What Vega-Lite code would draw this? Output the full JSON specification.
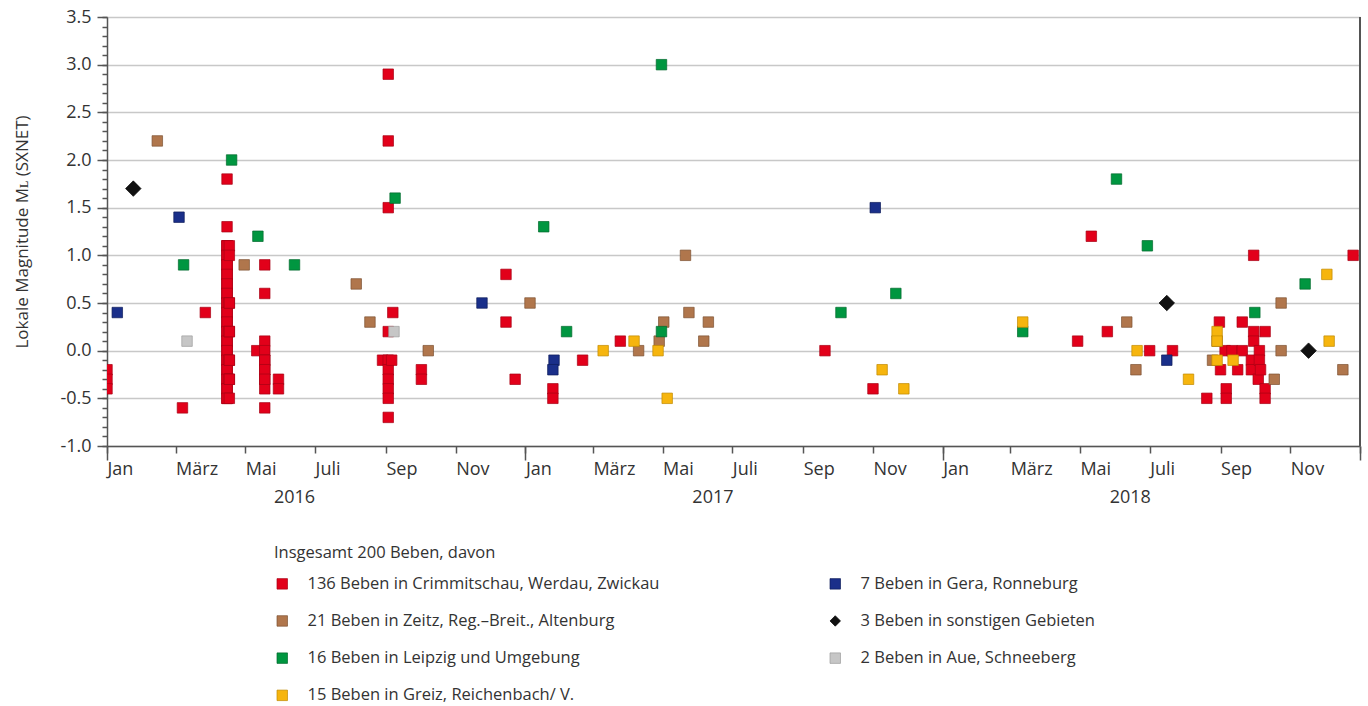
{
"$schema": "https://vega.github.io/schema/vega-lite/v6.json",
"autosize": {"type": "none"},
"width": 1253,
"height": 429,
"padding": {"left": 107, "top": 17, "right": 8, "bottom": 260},
"background": "white",
"config": {
  "font": "Open Sans",
  "view": {"stroke": null},
  "axis": {"labelFont": "Open Sans", "titleFont": "Open Sans", "labelColor": "#333333", "titleColor": "#333333", "domainColor": "#555555", "tickColor": "#555555", "domainWidth": 1.5, "tickWidth": 1.5, "labelFontSize": 18, "titleFontSize": 17, "titleFontWeight": "normal"},
  "legend": {"labelFont": "Open Sans", "titleFont": "Open Sans"}
},
"data": {"values": [
{"date":"2016-01-01","mag":-0.2,"grp":"a"},{"date":"2016-01-01","mag":-0.3,"grp":"a"},{"date":"2016-01-01","mag":-0.4,"grp":"a"},
{"date":"2016-03-07","mag":-0.6,"grp":"a"},{"date":"2016-03-27","mag":0.4,"grp":"a"},
{"date":"2016-04-15","mag":1.8,"grp":"a"},{"date":"2016-04-15","mag":1.3,"grp":"a"},{"date":"2016-04-15","mag":1.1,"grp":"a"},{"date":"2016-04-15","mag":1.0,"grp":"a"},{"date":"2016-04-15","mag":0.9,"grp":"a"},{"date":"2016-04-15","mag":0.8,"grp":"a"},{"date":"2016-04-15","mag":0.7,"grp":"a"},{"date":"2016-04-15","mag":0.6,"grp":"a"},{"date":"2016-04-15","mag":0.5,"grp":"a"},{"date":"2016-04-15","mag":0.4,"grp":"a"},{"date":"2016-04-15","mag":0.3,"grp":"a"},{"date":"2016-04-15","mag":0.2,"grp":"a"},{"date":"2016-04-15","mag":0.1,"grp":"a"},{"date":"2016-04-15","mag":0.0,"grp":"a"},{"date":"2016-04-15","mag":-0.1,"grp":"a"},{"date":"2016-04-15","mag":-0.2,"grp":"a"},{"date":"2016-04-15","mag":-0.3,"grp":"a"},{"date":"2016-04-15","mag":-0.4,"grp":"a"},{"date":"2016-04-15","mag":-0.5,"grp":"a"},
{"date":"2016-04-15","mag":1.1,"grp":"a"},{"date":"2016-04-15","mag":1.0,"grp":"a"},{"date":"2016-04-15","mag":0.9,"grp":"a"},{"date":"2016-04-15","mag":0.8,"grp":"a"},{"date":"2016-04-15","mag":0.7,"grp":"a"},{"date":"2016-04-15","mag":0.6,"grp":"a"},{"date":"2016-04-15","mag":0.5,"grp":"a"},{"date":"2016-04-15","mag":0.4,"grp":"a"},{"date":"2016-04-15","mag":0.3,"grp":"a"},{"date":"2016-04-15","mag":0.2,"grp":"a"},{"date":"2016-04-15","mag":0.1,"grp":"a"},{"date":"2016-04-15","mag":0.0,"grp":"a"},{"date":"2016-04-15","mag":-0.1,"grp":"a"},{"date":"2016-04-15","mag":-0.2,"grp":"a"},{"date":"2016-04-15","mag":-0.3,"grp":"a"},{"date":"2016-04-15","mag":-0.4,"grp":"a"},{"date":"2016-04-15","mag":-0.5,"grp":"a"},
{"date":"2016-04-15","mag":1.1,"grp":"a"},{"date":"2016-04-15","mag":1.0,"grp":"a"},{"date":"2016-04-15","mag":0.9,"grp":"a"},{"date":"2016-04-15","mag":0.8,"grp":"a"},{"date":"2016-04-15","mag":0.7,"grp":"a"},{"date":"2016-04-15","mag":0.6,"grp":"a"},{"date":"2016-04-15","mag":0.5,"grp":"a"},{"date":"2016-04-15","mag":0.4,"grp":"a"},{"date":"2016-04-15","mag":0.3,"grp":"a"},{"date":"2016-04-15","mag":0.2,"grp":"a"},{"date":"2016-04-15","mag":0.1,"grp":"a"},{"date":"2016-04-15","mag":0.0,"grp":"a"},{"date":"2016-04-15","mag":-0.1,"grp":"a"},{"date":"2016-04-15","mag":-0.2,"grp":"a"},{"date":"2016-04-15","mag":-0.3,"grp":"a"},{"date":"2016-04-15","mag":-0.4,"grp":"a"},{"date":"2016-04-15","mag":-0.5,"grp":"a"},
{"date":"2016-04-17","mag":1.1,"grp":"a"},{"date":"2016-04-17","mag":1.0,"grp":"a"},{"date":"2016-04-17","mag":0.5,"grp":"a"},{"date":"2016-04-17","mag":0.2,"grp":"a"},{"date":"2016-04-17","mag":-0.1,"grp":"a"},{"date":"2016-04-17","mag":-0.3,"grp":"a"},{"date":"2016-04-17","mag":-0.5,"grp":"a"},
{"date":"2016-04-17","mag":0.5,"grp":"a"},{"date":"2016-04-17","mag":0.2,"grp":"a"},{"date":"2016-04-17","mag":-0.1,"grp":"a"},{"date":"2016-04-17","mag":-0.3,"grp":"a"},
{"date":"2016-05-11","mag":0.0,"grp":"a"},
{"date":"2016-05-18","mag":0.9,"grp":"a"},{"date":"2016-05-18","mag":0.6,"grp":"a"},{"date":"2016-05-18","mag":0.1,"grp":"a"},{"date":"2016-05-18","mag":0.0,"grp":"a"},{"date":"2016-05-18","mag":-0.1,"grp":"a"},{"date":"2016-05-18","mag":-0.2,"grp":"a"},{"date":"2016-05-18","mag":-0.3,"grp":"a"},{"date":"2016-05-18","mag":-0.4,"grp":"a"},{"date":"2016-05-18","mag":-0.6,"grp":"a"},
{"date":"2016-05-18","mag":-0.1,"grp":"a"},{"date":"2016-05-18","mag":-0.2,"grp":"a"},{"date":"2016-05-18","mag":-0.3,"grp":"a"},
{"date":"2016-05-30","mag":-0.3,"grp":"a"},{"date":"2016-05-30","mag":-0.4,"grp":"a"},
{"date":"2016-08-29","mag":-0.1,"grp":"a"},
{"date":"2016-09-03","mag":2.9,"grp":"a"},{"date":"2016-09-03","mag":2.2,"grp":"a"},{"date":"2016-09-03","mag":1.5,"grp":"a"},{"date":"2016-09-03","mag":0.2,"grp":"a"},{"date":"2016-09-03","mag":-0.1,"grp":"a"},{"date":"2016-09-03","mag":-0.2,"grp":"a"},{"date":"2016-09-03","mag":-0.3,"grp":"a"},{"date":"2016-09-03","mag":-0.4,"grp":"a"},{"date":"2016-09-03","mag":-0.5,"grp":"a"},{"date":"2016-09-03","mag":-0.7,"grp":"a"},
{"date":"2016-09-06","mag":-0.1,"grp":"a"},{"date":"2016-09-07","mag":0.4,"grp":"a"},
{"date":"2016-10-02","mag":-0.2,"grp":"a"},{"date":"2016-10-02","mag":-0.3,"grp":"a"},
{"date":"2016-12-15","mag":0.8,"grp":"a"},{"date":"2016-12-15","mag":0.3,"grp":"a"},{"date":"2016-12-23","mag":-0.3,"grp":"a"},
{"date":"2017-01-25","mag":-0.4,"grp":"a"},{"date":"2017-01-25","mag":-0.5,"grp":"a"},{"date":"2017-02-20","mag":-0.1,"grp":"a"},{"date":"2017-03-25","mag":0.1,"grp":"a"},{"date":"2017-09-20","mag":0.0,"grp":"a"},{"date":"2017-11-01","mag":-0.4,"grp":"a"},
{"date":"2018-04-29","mag":0.1,"grp":"a"},{"date":"2018-05-11","mag":1.2,"grp":"a"},{"date":"2018-05-25","mag":0.2,"grp":"a"},{"date":"2018-07-01","mag":0.0,"grp":"a"},{"date":"2018-07-21","mag":0.0,"grp":"a"},{"date":"2018-08-20","mag":-0.5,"grp":"a"},{"date":"2018-08-31","mag":0.3,"grp":"a"},{"date":"2018-09-01","mag":-0.2,"grp":"a"},{"date":"2018-09-05","mag":0.0,"grp":"a"},{"date":"2018-09-06","mag":-0.4,"grp":"a"},{"date":"2018-09-06","mag":-0.5,"grp":"a"},{"date":"2018-09-11","mag":0.0,"grp":"a"},{"date":"2018-09-16","mag":-0.2,"grp":"a"},{"date":"2018-09-20","mag":0.3,"grp":"a"},{"date":"2018-09-20","mag":0.0,"grp":"a"},{"date":"2018-09-28","mag":-0.1,"grp":"a"},{"date":"2018-09-28","mag":-0.2,"grp":"a"},{"date":"2018-09-30","mag":1.0,"grp":"a"},{"date":"2018-09-30","mag":0.2,"grp":"a"},{"date":"2018-09-30","mag":0.1,"grp":"a"},{"date":"2018-10-04","mag":-0.3,"grp":"a"},{"date":"2018-10-05","mag":0.0,"grp":"a"},{"date":"2018-10-05","mag":-0.1,"grp":"a"},{"date":"2018-10-06","mag":-0.2,"grp":"a"},{"date":"2018-10-10","mag":0.2,"grp":"a"},{"date":"2018-10-10","mag":-0.4,"grp":"a"},{"date":"2018-10-10","mag":-0.5,"grp":"a"},{"date":"2018-12-26","mag":1.0,"grp":"a"},
{"date":"2016-02-14","mag":2.2,"grp":"c"},{"date":"2016-04-30","mag":0.9,"grp":"c"},{"date":"2016-08-06","mag":0.7,"grp":"c"},{"date":"2016-08-18","mag":0.3,"grp":"c"},{"date":"2016-10-08","mag":0.0,"grp":"c"},{"date":"2017-01-05","mag":0.5,"grp":"c"},{"date":"2017-04-10","mag":0.0,"grp":"c"},{"date":"2017-04-28","mag":0.1,"grp":"c"},{"date":"2017-05-02","mag":0.3,"grp":"c"},{"date":"2017-05-21","mag":1.0,"grp":"c"},{"date":"2017-05-24","mag":0.4,"grp":"c"},{"date":"2017-06-06","mag":0.1,"grp":"c"},{"date":"2017-06-10","mag":0.3,"grp":"c"},{"date":"2018-06-11","mag":0.3,"grp":"c"},{"date":"2018-06-19","mag":-0.2,"grp":"c"},{"date":"2018-08-25","mag":-0.1,"grp":"c"},{"date":"2018-08-29","mag":0.1,"grp":"c"},{"date":"2018-10-18","mag":-0.3,"grp":"c"},{"date":"2018-10-24","mag":0.5,"grp":"c"},{"date":"2018-10-24","mag":0.0,"grp":"c"},{"date":"2018-12-17","mag":-0.2,"grp":"c"},
{"date":"2016-03-08","mag":0.9,"grp":"e"},{"date":"2016-04-19","mag":2.0,"grp":"e"},{"date":"2016-05-12","mag":1.2,"grp":"e"},{"date":"2016-06-13","mag":0.9,"grp":"e"},{"date":"2016-09-09","mag":1.6,"grp":"e"},{"date":"2017-01-17","mag":1.3,"grp":"e"},{"date":"2017-02-06","mag":0.2,"grp":"e"},{"date":"2017-04-30","mag":0.2,"grp":"e"},{"date":"2017-04-30","mag":3.0,"grp":"e"},{"date":"2017-10-04","mag":0.4,"grp":"e"},{"date":"2017-11-21","mag":0.6,"grp":"e"},{"date":"2018-03-12","mag":0.2,"grp":"e"},{"date":"2018-06-02","mag":1.8,"grp":"e"},{"date":"2018-06-29","mag":1.1,"grp":"e"},{"date":"2018-10-01","mag":0.4,"grp":"e"},{"date":"2018-11-14","mag":0.7,"grp":"e"},
{"date":"2016-01-10","mag":0.4,"grp":"b"},{"date":"2016-03-04","mag":1.4,"grp":"b"},{"date":"2016-11-24","mag":0.5,"grp":"b"},{"date":"2017-01-26","mag":-0.1,"grp":"b"},{"date":"2017-01-25","mag":-0.2,"grp":"b"},{"date":"2017-11-03","mag":1.5,"grp":"b"},{"date":"2018-07-16","mag":-0.1,"grp":"b"},
{"date":"2017-03-10","mag":0.0,"grp":"g"},{"date":"2017-04-06","mag":0.1,"grp":"g"},{"date":"2017-04-27","mag":0.0,"grp":"g"},{"date":"2017-05-05","mag":-0.5,"grp":"g"},{"date":"2017-11-09","mag":-0.2,"grp":"g"},{"date":"2017-11-28","mag":-0.4,"grp":"g"},{"date":"2018-03-12","mag":0.3,"grp":"g"},{"date":"2018-06-20","mag":0.0,"grp":"g"},{"date":"2018-08-04","mag":-0.3,"grp":"g"},{"date":"2018-08-29","mag":0.2,"grp":"g"},{"date":"2018-08-29","mag":0.1,"grp":"g"},{"date":"2018-08-29","mag":-0.1,"grp":"g"},{"date":"2018-09-12","mag":-0.1,"grp":"g"},{"date":"2018-12-03","mag":0.8,"grp":"g"},{"date":"2018-12-05","mag":0.1,"grp":"g"},
{"date":"2016-01-24","mag":1.7,"grp":"d"},{"date":"2018-07-16","mag":0.5,"grp":"d"},{"date":"2018-11-17","mag":0.0,"grp":"d"},
{"date":"2016-03-11","mag":0.1,"grp":"f"},{"date":"2016-09-08","mag":0.2,"grp":"f"}
]},
"layer": [
  {
    "mark": {"type": "point", "filled": true, "strokeWidth": 0.7, "opacity": 1, "clip": true},
    "encoding": {
      "x": {"field": "date", "type": "temporal",
        "scale": {"type": "utc", "domain": [{"year": 2016, "month": 1, "date": 1, "utc": true}, {"year": 2019, "month": 1, "date": 1, "utc": true}]},
        "axis": {"orient": "bottom", "tickCount": {"interval": "month", "step": 2}, "labelExpr": "utcyear(datum.value) > 2018 ? '' : ['Jan','Feb','März','Apr','Mai','Juni','Juli','Aug','Sep','Okt','Nov','Dez'][utcmonth(datum.value)]", "labelAlign": "left", "labelBaseline": "top", "labelOffset": 0, "labelPadding": 7, "tickSize": 7, "grid": false, "title": null, "labelFlush": false, "labelOverlap": false}},
      "y": {"field": "mag", "type": "quantitative",
        "scale": {"domain": [-1, 3.5], "nice": false, "zero": false},
        "axis": {"orient": "left", "values": [-1, -0.5, 0, 0.5, 1, 1.5, 2, 2.5, 3, 3.5], "labelExpr": "replace(format(datum.value, '.1f'), '−', '-')", "tickSize": 10, "labelPadding": 6, "grid": true, "gridColor": "#c8c8c8", "gridWidth": 1.5, "title": "Lokale Magnitude Mʟ (SXNET)", "titlePadding": 28}},
      "color": {"field": "grp", "type": "nominal",
        "scale": {"domain": ["a", "c", "e", "g", "b", "d", "f"], "range": ["#e2001a", "#b0764c", "#009640", "#f6b50e", "#1a2f8a", "#111111", "#c6c6c6"]},
        "legend": {"orient": "none", "legendX": 167, "legendY": 528, "direction": "vertical", "columns": 2, "title": "Insgesamt 200 Beben, davon", "titleFontSize": 16.5, "titleFontWeight": "normal", "titleColor": "#333333", "titlePadding": 14, "titleLimit": 800, "labelFontSize": 16.5, "labelColor": "#333333", "labelOffset": 17, "symbolSize": 110, "rowPadding": 20.2, "columnPadding": 167, "symbolStrokeWidth": 0.7, "padding": 0, "labelLimit": 600,
          "labelExpr": "datum.label == 'a' ? '136 Beben in Crimmitschau, Werdau, Zwickau' : datum.label == 'b' ? '7 Beben in Gera, Ronneburg' : datum.label == 'c' ? ' 21 Beben in Zeitz, Reg.–Breit., Altenburg' : datum.label == 'd' ? '3 Beben in sonstigen Gebieten' : datum.label == 'e' ? ' 16 Beben in Leipzig und Umgebung' : datum.label == 'f' ? '2 Beben in Aue, Schneeberg' : ' 15 Beben in Greiz, Reichenbach/ V.'"}},
      "stroke": {"field": "grp", "type": "nominal",
        "scale": {"domain": ["a", "c", "e", "g", "b", "d", "f"], "range": ["#a80014", "#7d5232", "#00682c", "#c08a00", "#0f1c5a", "#000000", "#9c9c9c"]}},
      "shape": {"field": "grp", "type": "nominal",
        "scale": {"domain": ["a", "c", "e", "g", "b", "d", "f"], "range": ["square", "square", "square", "square", "square", "diamond", "square"]}},
      "size": {"condition": {"test": "datum.grp == 'd'", "value": 240}, "value": 110}
    }
  },
  {
    "mark": {"type": "rule", "color": "#555555", "strokeWidth": 1.5},
    "encoding": {
      "x": {"datum": {"year": 2019, "month": 1, "date": 1, "utc": true}, "type": "temporal",
        "axis": {"orient": "bottom", "values": [{"year": 2016, "month": 1, "date": 1, "utc": true}, {"year": 2017, "month": 1, "date": 1, "utc": true}, {"year": 2018, "month": 1, "date": 1, "utc": true}, {"year": 2019, "month": 1, "date": 1, "utc": true}], "tickSize": 14, "domain": false, "grid": false, "title": null, "labelExpr": "utcyear(datum.value) > 2018 ? '' : utcFormat(datum.value, '%Y')", "labelAlign": "center", "labelBaseline": "top", "labelOffset": 187, "labelPadding": 28, "labelFlush": false, "labelOverlap": false}},
      "y": {"datum": -1, "type": "quantitative",
        "axis": {"orient": "left", "values": [-1, -0.9, -0.8, -0.7, -0.6, -0.5, -0.4, -0.3, -0.2, -0.1, 0, 0.1, 0.2, 0.3, 0.4, 0.5, 0.6, 0.7, 0.8, 0.9, 1, 1.1, 1.2, 1.3, 1.4, 1.5, 1.6, 1.7, 1.8, 1.9, 2, 2.1, 2.2, 2.3, 2.4, 2.5, 2.6, 2.7, 2.8, 2.9, 3, 3.1, 3.2, 3.3, 3.4, 3.5], "labels": false, "domain": false, "grid": false, "tickSize": 5, "title": null}},
      "y2": {"datum": 3.5}
    }
  }
],
"resolve": {"axis": {"x": "independent", "y": "independent"}}
}
